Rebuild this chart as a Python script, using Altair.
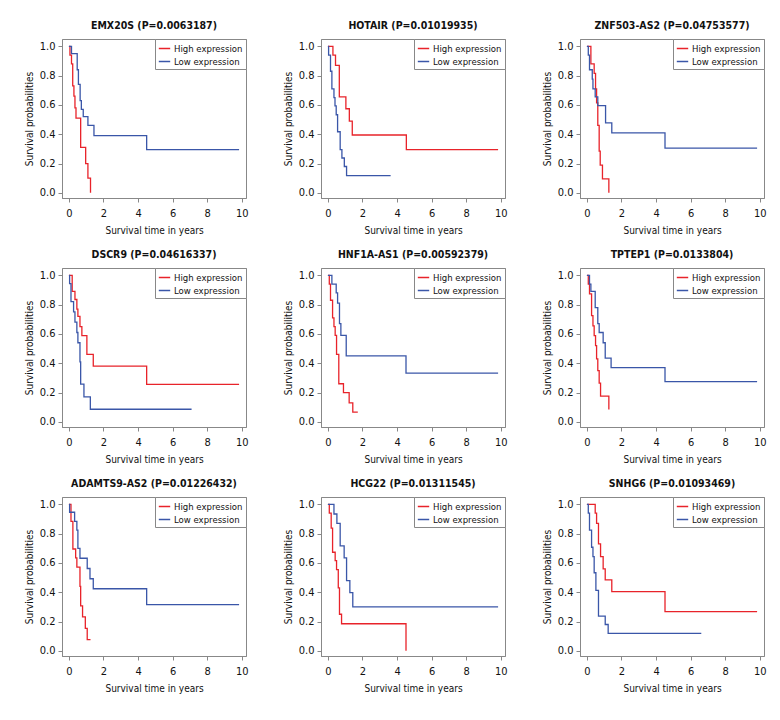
import altair as alt
import pandas as pd

FONT = "DejaVu Sans Condensed"
RED = "#e8232a"
BLUE = "#3a56a8"
GROUPS = ["High expression", "Low expression"]

titles = [
    "EMX20S (P=0.0063187)", "HOTAIR (P=0.01019935)", "ZNF503-AS2 (P=0.04753577)",
    "DSCR9 (P=0.04616337)", "HNF1A-AS1 (P=0.00592379)", "TPTEP1 (P=0.0133804)",
    "ADAMTS9-AS2 (P=0.01226432)", "HCG22 (P=0.01311545)", "SNHG6 (P=0.01093469)",
]

x_ticks = [0, 2, 4, 6, 8, 10]
y_ticks = [0.0, 0.2, 0.4, 0.6, 0.8, 1.0]

# EMX20S
emx_high_t = [0, 0.06, 0.15, 0.22, 0.29, 0.35, 0.41, 0.68, 0.97, 1.1, 1.25]
emx_high_s = [1.0, 0.94, 0.88, 0.73, 0.66, 0.58, 0.51, 0.31, 0.20, 0.10, 0.0]
emx_low_t = [0, 0.15, 0.48, 0.55, 0.65, 0.72, 0.83, 1.1, 1.45, 4.5, 9.85]
emx_low_s = [1.0, 0.95, 0.84, 0.74, 0.63, 0.57, 0.52, 0.46, 0.39, 0.295, 0.295]

# HOTAIR
hot_high_t = [0, 0.29, 0.44, 0.66, 1.04, 1.24, 1.41, 4.54, 9.85]
hot_high_s = [1.0, 0.94, 0.87, 0.655, 0.574, 0.49, 0.395, 0.295, 0.295]
hot_low_t = [0, 0.04, 0.15, 0.23, 0.35, 0.41, 0.48, 0.56, 0.71, 0.81, 0.95, 1.08, 3.63]
hot_low_s = [1.0, 0.94, 0.83, 0.71, 0.65, 0.594, 0.533, 0.417, 0.295, 0.238, 0.18, 0.118, 0.118]

# ZNF503-AS2
znf_high_t = [0, 0.23, 0.42, 0.50, 0.56, 0.63, 0.71, 0.77, 0.90, 1.27]
znf_high_s = [1.0, 0.88, 0.816, 0.71, 0.614, 0.46, 0.285, 0.19, 0.095, 0.0]
znf_low_t = [0, 0.08, 0.15, 0.31, 0.35, 0.48, 0.63, 1.08, 1.44, 4.52, 9.85]
znf_low_s = [1.0, 0.94, 0.84, 0.776, 0.71, 0.655, 0.596, 0.478, 0.41, 0.306, 0.306]

# DSCR9
dscr_high_t = [0, 0.19, 0.35, 0.46, 0.52, 0.64, 0.75, 1.04, 1.41, 4.5, 9.85]
dscr_high_s = [1.0, 0.89, 0.835, 0.77, 0.72, 0.65, 0.588, 0.46, 0.38, 0.256, 0.256]
dscr_low_t = [0, 0.04, 0.12, 0.27, 0.35, 0.46, 0.52, 0.64, 0.68, 0.87, 1.24, 7.1]
dscr_low_s = [1.0, 0.943, 0.82, 0.75, 0.68, 0.61, 0.54, 0.41, 0.258, 0.17, 0.086, 0.086]

# HNF1A-AS1
hnf_high_t = [0, 0.08, 0.15, 0.27, 0.35, 0.42, 0.50, 0.63, 0.90, 1.23, 1.44, 1.73]
hnf_high_s = [1.0, 0.94, 0.83, 0.71, 0.65, 0.59, 0.46, 0.26, 0.20, 0.13, 0.066, 0.066]
hnf_low_t = [0, 0.23, 0.48, 0.56, 0.67, 0.75, 1.06, 4.52, 9.85]
hnf_low_s = [1.0, 0.94, 0.88, 0.81, 0.67, 0.59, 0.45, 0.333, 0.333]

# TPTEP1
tpt_high_t = [0, 0.08, 0.15, 0.27, 0.35, 0.42, 0.50, 0.56, 0.63, 0.71, 0.79, 1.27]
tpt_high_s = [1.0, 0.94, 0.874, 0.725, 0.655, 0.588, 0.52, 0.43, 0.35, 0.265, 0.176, 0.085]
tpt_low_t = [0, 0.15, 0.23, 0.48, 0.63, 0.71, 0.94, 1.06, 1.40, 4.52, 9.85]
tpt_low_s = [1.0, 0.94, 0.89, 0.78, 0.67, 0.61, 0.54, 0.435, 0.37, 0.275, 0.275]

# ADAMTS9-AS2
ada_high_t = [0, 0.12, 0.23, 0.39, 0.46, 0.64, 0.68, 0.79, 0.95, 1.06, 1.25]
ada_high_s = [1.0, 0.883, 0.695, 0.634, 0.571, 0.44, 0.307, 0.232, 0.153, 0.077, 0.077]
ada_low_t = [0, 0.04, 0.33, 0.46, 0.52, 0.64, 1.06, 1.22, 1.41, 4.5, 9.85]
ada_low_s = [1.0, 0.946, 0.883, 0.824, 0.70, 0.632, 0.562, 0.492, 0.424, 0.316, 0.316]

# HCG22
hcg_high_t = [0, 0.08, 0.19, 0.27, 0.42, 0.50, 0.60, 0.67, 0.79, 4.52]
hcg_high_s = [1.0, 0.94, 0.837, 0.673, 0.616, 0.555, 0.43, 0.25, 0.185, 0.0]
hcg_low_t = [0, 0.35, 0.52, 0.71, 0.94, 1.08, 1.27, 1.44, 9.85]
hcg_low_s = [1.0, 0.934, 0.87, 0.716, 0.634, 0.48, 0.397, 0.30, 0.30]

# SNHG6
snh_high_t = [0, 0.48, 0.56, 0.67, 0.79, 0.94, 1.06, 1.44, 4.52, 9.85]
snh_high_s = [1.0, 0.94, 0.87, 0.73, 0.643, 0.56, 0.485, 0.404, 0.268, 0.268]
snh_low_t = [0, 0.08, 0.15, 0.27, 0.35, 0.42, 0.52, 0.67, 1.06, 1.23, 6.62]
snh_low_s = [1.0, 0.94, 0.824, 0.707, 0.643, 0.533, 0.413, 0.237, 0.18, 0.12, 0.12]

curves = [
    (emx_high_t, emx_high_s, emx_low_t, emx_low_s),
    (hot_high_t, hot_high_s, hot_low_t, hot_low_s),
    (znf_high_t, znf_high_s, znf_low_t, znf_low_s),
    (dscr_high_t, dscr_high_s, dscr_low_t, dscr_low_s),
    (hnf_high_t, hnf_high_s, hnf_low_t, hnf_low_s),
    (tpt_high_t, tpt_high_s, tpt_low_t, tpt_low_s),
    (ada_high_t, ada_high_s, ada_low_t, ada_low_s),
    (hcg_high_t, hcg_high_s, hcg_low_t, hcg_low_s),
    (snh_high_t, snh_high_s, snh_low_t, snh_low_s),
]


def panel(title, ht, hs, lt, ls):
    rows = []
    for i, (t, s) in enumerate(zip(ht, hs)):
        rows.append({"t": t, "s": s, "g": GROUPS[0], "i": i})
    for i, (t, s) in enumerate(zip(lt, ls)):
        rows.append({"t": t, "s": s, "g": GROUPS[1], "i": i})
    df = pd.DataFrame(rows)
    return (
        alt.Chart(df, title=alt.Title(title, fontSize=10.5, fontWeight="bold", font=FONT,
                                      offset=7, color="#111"))
        .mark_line(interpolate="step-after", strokeWidth=1.3, clip=True)
        .encode(
            x=alt.X("t:Q",
                    scale=alt.Scale(domain=[-0.4, 10.25], nice=False, zero=False),
                    axis=alt.Axis(values=x_ticks, title="Survival time in years", format="d",
                                  labelPadding=5, titlePadding=7)),
            y=alt.Y("s:Q",
                    scale=alt.Scale(domain=[-0.035, 1.05], nice=False, zero=False),
                    axis=alt.Axis(values=y_ticks, title="Survival probabilities", format=".1f",
                                  labelPadding=3, titlePadding=5)),
            color=alt.Color("g:N",
                            scale=alt.Scale(domain=GROUPS, range=[RED, BLUE]),
                            legend=alt.Legend(title=None, orient="top-right", offset=0,
                                              padding=3, strokeColor="#888", fillColor="white",
                                              symbolType="stroke", symbolSize=130,
                                              symbolStrokeWidth=1.5, labelFontSize=9.5,
                                              labelFont=FONT, labelColor="#111",
                                              rowPadding=2, labelOffset=3)),
            order=alt.Order("i:Q"),
        )
        .properties(width=184, height=159)
    )


panels = [panel(titles[k], *curves[k]) for k in range(9)]
rows = [
    alt.hconcat(*panels[r * 3:(r + 1) * 3], spacing=33)
    .resolve_legend(color="independent")
    .resolve_scale(color="independent")
    for r in range(3)
]

chart = (
    alt.vconcat(*rows, spacing=13)
    .resolve_legend(color="independent")
    .resolve_scale(color="independent")
    .properties(padding={"left": 15, "top": 12, "right": 5, "bottom": 5})
    .configure_view(stroke="#888", strokeWidth=1)
    .configure_axis(grid=False, domainColor="#888", tickColor="#888", tickSize=4,
                    labelFont=FONT, labelFontSize=11, labelColor="#111",
                    titleFont=FONT, titleFontSize=10, titleFontWeight="normal",
                    titleColor="#111")
)

chart.save("out.html", embed_options={"renderer": "svg", "actions": False})
